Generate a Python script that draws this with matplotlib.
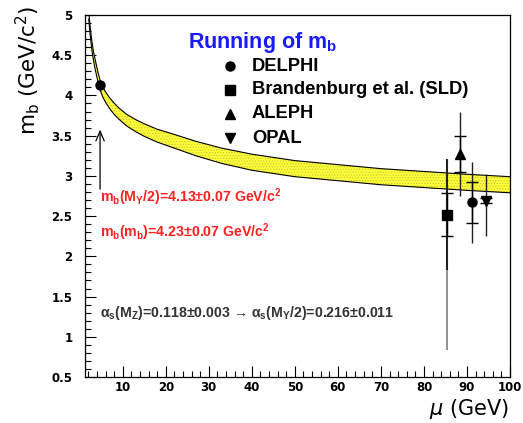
import matplotlib
matplotlib.use("Agg")
import matplotlib.pyplot as plt
from matplotlib.ticker import MultipleLocator

plt.rcParams['hatch.linewidth'] = 0.6

# ---- data ----
band_mu = [2.1, 2.4, 2.8, 3.2, 3.7, 4.2, 4.73, 5.3, 6.0, 7.0, 8.0, 9.2, 11, 13, 15,
           18, 22, 27, 33, 40, 50, 60, 70, 80, 90, 100]
band_upper = [5.05, 4.87, 4.685, 4.545, 4.42, 4.30, 4.19, 4.112, 4.045, 3.967, 3.905,
              3.84, 3.762, 3.70, 3.648, 3.58, 3.515, 3.43, 3.345, 3.27, 3.19, 3.14,
              3.09, 3.055, 3.02, 2.99]
band_lower = [4.95, 4.77, 4.575, 4.435, 4.30, 4.18, 4.07, 3.988, 3.915, 3.833, 3.765,
              3.70, 3.618, 3.55, 3.492, 3.42, 3.345, 3.25, 3.155, 3.07, 2.99, 2.94,
              2.89, 2.855, 2.82, 2.79]

low_mu = 4.73
low_mb = 4.13

experiments = ['DELPHI', 'Brandenburg et al. (SLD)', 'ALEPH', 'OPAL']
markers = ['o', 's', '^', 'v']
z_mu = [91.2, 85.3, 88.4, 94.5]
z_mb = [2.67, 2.52, 3.27, 2.69]
stat_lo = [0.25, 0.27, 0.22, 0.03]
stat_hi = [0.26, 0.27, 0.23, 0.03]
tot_lo = [0.50, 0.69, 0.52, 0.44]
tot_hi = [0.50, 0.69, 0.52, 0.33]
sld_extra_low = 0.83   # grey extension of SLD error bar

xticks = [10, 20, 30, 40, 50, 60, 70, 80, 90, 100]
yticks = [0.5, 1, 1.5, 2, 2.5, 3, 3.5, 4, 4.5, 5]
ytick_labels = ['0.5', '1', '1.5', '2', '2.5', '3', '3.5', '4', '4.5', '5']

# ---- figure ----
W, H = 523, 423
fig = plt.figure(figsize=(W / 100, H / 100), dpi=100)
L, R, T, B = 85, 510, 15, 377
ax = fig.add_axes([L / W, 1 - B / H, (R - L) / W, (B - T) / H])
ax.set_xlim(1.23, 100)
ax.set_ylim(0.5, 5)

# band
ax.fill_between(band_mu, band_lower, band_upper, facecolor='#ffff38',
                edgecolor='#c8c83c', hatch='......', linewidth=0, zorder=2)
ax.plot(band_mu, band_upper, color='black', lw=0.8, zorder=3)
ax.plot(band_mu, band_lower, color='black', lw=0.8, zorder=3)

# low energy point
ax.plot([low_mu], [low_mb], 'o', color='black', ms=6.5, zorder=5)
ax.annotate('', xy=(low_mu, 3.61), xytext=(low_mu, 2.80),
            arrowprops=dict(arrowstyle='->,head_length=0.7,head_width=0.3',
                            color='black', lw=0.9), zorder=5)

# Z points
for i in range(4):
    x, y = z_mu[i], z_mb[i]
    if i == 1:
        ax.vlines(x, sld_extra_low, y - tot_lo[i], color='#888888', lw=1.3, zorder=4)
        ax.vlines(x, y - tot_lo[i], y + tot_hi[i], color='#222222', lw=1.5, zorder=4)
    else:
        ax.vlines(x, y - tot_lo[i], y + tot_hi[i], color='#222222', lw=1.0, zorder=4)
    ax.errorbar([x], [y], yerr=[[stat_lo[i]], [stat_hi[i]]], fmt='none',
                ecolor='black', elinewidth=1.0, capsize=4.5, capthick=1.0, zorder=4)
    ax.plot([x], [y], markers[i], color='black', ms=6.5, zorder=6)

# legend
leg_y = [0.859, 0.793, 0.727, 0.660]
for i in range(4):
    ax.plot([0.341], [leg_y[i]], markers[i], color='black', ms=6.5,
            transform=ax.transAxes, clip_on=False, zorder=6)
    ax.text(0.393, leg_y[i], experiments[i], transform=ax.transAxes,
            ha='left', va='center', fontsize=13.2, fontweight='bold',
            family='Liberation Sans', color='black')

ax.text(0.242, 0.925, r'Running of m$\mathregular{_b}$', transform=ax.transAxes,
        ha='left', va='center', fontsize=15.5, fontweight='bold',
        family='Liberation Sans', color='#1a1aff')

ax.text(0.035, 0.497, r'm$\mathregular{_b}$(M$\mathregular{_Υ}$/2)=4.13±0.07 GeV/c$\mathregular{^2}$',
        transform=ax.transAxes, ha='left', va='center', fontsize=10.2,
        fontweight='bold', family='Liberation Sans', color='#ff2020')
ax.text(0.035, 0.401, r'm$\mathregular{_b}$(m$\mathregular{_b}$)=4.23±0.07 GeV/c$\mathregular{^2}$',
        transform=ax.transAxes, ha='left', va='center', fontsize=10.2,
        fontweight='bold', family='Liberation Sans', color='#ff2020')
ax.text(0.035, 0.177,
        r'α$\mathregular{_s}$(M$\mathregular{_Z}$)=0.118±0.003 → α$\mathregular{_s}$(M$\mathregular{_Υ}$/2)=0.216±0.011',
        transform=ax.transAxes, ha='left', va='center', fontsize=10.2,
        fontweight='bold', family='Liberation Sans', color='#333333')

# axes styling
ax.set_xticks(xticks)
ax.set_xticklabels([str(t) for t in xticks])
ax.set_yticks(yticks)
ax.set_yticklabels(ytick_labels)
ax.xaxis.set_minor_locator(MultipleLocator(2))
ax.yaxis.set_minor_locator(MultipleLocator(0.1))
ax.tick_params(which='both', direction='in', top=False, right=False, width=0.8)
ax.tick_params(which='major', length=8)
ax.tick_params(which='minor', length=4)
ax.tick_params(axis='x', pad=3)
ax.tick_params(axis='y', pad=9)
for lab in ax.get_xticklabels() + ax.get_yticklabels():
    lab.set_fontsize(8.5)
    lab.set_fontweight('bold')
    lab.set_family('DejaVu Sans')
for s in ax.spines.values():
    s.set_linewidth(0.9)

fig.text(509 / W, 1 - 409 / H, r'$\mu$ (GeV)', ha='right', va='center',
         fontsize=15, family='DejaVu Sans')
fig.text(28 / W, 1 - 70 / H, r'm$\mathregular{_b}$ (GeV/c$\mathregular{^2}$)',
         rotation=90, ha='center', va='center', fontsize=15.5, family='DejaVu Sans')

fig.savefig('out.png', dpi=100)
